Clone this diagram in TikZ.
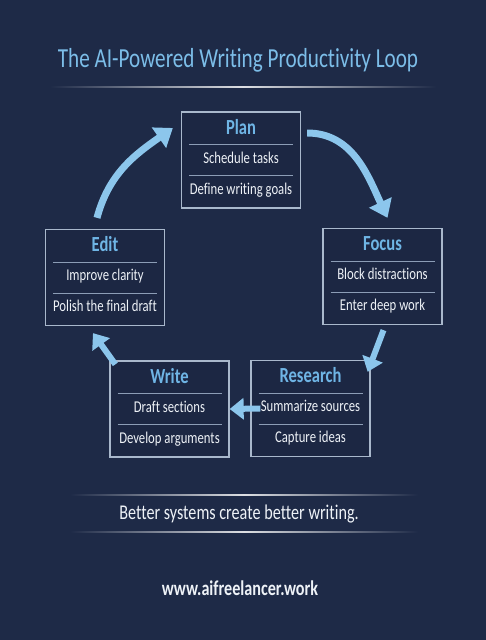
\documentclass[tikz,border=0pt]{standalone}
\usepackage{fontspec}
\setmainfont{Carlito}[FakeStretch=0.77,Ligatures=NoCommon]
\usetikzlibrary{arrows.meta,calc}
\definecolor{bg}{HTML}{1E2A47}
\definecolor{boxfill}{HTML}{1C2743}
\definecolor{boxline}{HTML}{A9B8CC}
\definecolor{sepline}{HTML}{8C9DB6}
\definecolor{titleblue}{HTML}{7CBDE8}
\definecolor{headblue}{HTML}{6FB5E5}
\definecolor{itemtext}{HTML}{EEF2F7}
\definecolor{arrowblue}{HTML}{8CC6EC}

\begin{document}
\begin{tikzpicture}[x=1pt,y=1pt,
  box/.style={draw=boxline,line width=1.3pt,fill=boxfill,minimum width=119pt,minimum height=96pt,inner sep=0pt},
  head/.style={text=headblue,font=\fontsize{21.5}{21.5}\selectfont\bfseries,text height=14pt,text depth=4pt,inner sep=0pt},
  item/.style={text=itemtext,font=\fontsize{16.5}{16.5}\selectfont,text height=11pt,text depth=3pt,inner sep=0pt},
  sep/.style={draw=sepline,line width=0.9pt},
  flow/.style={draw=arrowblue,line width=7pt,-{Triangle[length=17pt,width=24pt]}},
  flowsm/.style={draw=arrowblue,line width=6pt,-{Triangle[length=14pt,width=21pt]}},
  glow/.style={left color=bg,right color=bg,middle color=white!85!bg}]
\fill[bg] (0,0) rectangle (486,640);
\useasboundingbox (0,0) rectangle (486,640);
\node[text=titleblue,font=\fontsize{27.5}{27.5}\selectfont] (title) at (238,580) {The AI-Powered Writing Productivity Loop};
\shade[glow] (50,552.6) rectangle (436,553.8);
\foreach \n/\x/\y/\h/\a/\b in {plan/241/480/Plan/Schedule tasks/Define writing goals,
  focus/382.5/363.5/Focus/Block distractions/Enter deep work,
  edit/105/362.5/Edit/Improve clarity/Polish the final draft,
  write/169.5/231/Write/Draft sections/Develop arguments,
  research/310.5/231.5/Research/Summarize sources/Capture ideas}{
  \node[box] (\n) at (\x,\y) {};
  \node[head] (\n-h) at ($(\n.center)+(0,30.5)$) {\h};
  \node[item] (\n-a) at ($(\n.center)+(0,0.5)$) {\a};
  \node[item] (\n-b) at ($(\n.center)+(0,-30.5)$) {\b};
  \draw[sep] ($(\n.center)+(-52,15.5)$) -- ($(\n.center)+(52,15.5)$);
  \draw[sep] ($(\n.center)+(-52,-15.5)$) -- ($(\n.center)+(52,-15.5)$);
}
\draw[flow] ([shift={(-8,11)}]edit.north) to[out=75,in=215] ([shift={(-8,32)}]plan.west);
\draw[flow] ([shift={(6,27)}]plan.east) to[out=0,in=115] ([shift={(5,10)}]focus.north);
\draw[flowsm] ([shift={(1,-5)}]focus.south) -- ([shift={(-3,-12)}]research.north east);
\draw[flowsm] ([xshift=10pt]research.west) -- (write.east);
\draw[flowsm] ([shift={(6,-4)}]write.north west) -- ([shift={(-12,-7)}]edit.south);
\shade[glow] (70,144.4) rectangle (418,145.6);
\node[text=itemtext,font=\fontsize{21}{21}\selectfont] (tagline) at (239,126) {Better systems create better writing.};
\shade[glow] (70,107.4) rectangle (418,108.6);
\node[text=itemtext,font=\fontsize{21}{21}\selectfont\bfseries] (url) at (240,52) {www.aifreelancer.work};
\end{tikzpicture}
\end{document}
